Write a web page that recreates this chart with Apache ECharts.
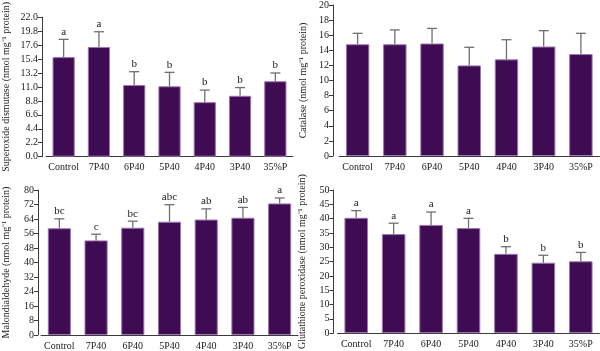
<!DOCTYPE html>
<html>
<head>
<meta charset="utf-8">
<script src="https://cdn.jsdelivr.net/npm/echarts@6/dist/echarts.min.js"></script>
<style>
  html, body { margin: 0; padding: 0; background: #fff; }
  #main { width: 600px; height: 351px; }
</style>
</head>
<body>
<div id="main"></div>
<script>
// categories shared by all four panels
var categories = ['Control', '7P40', '6P40', '5P40', '4P40', '3P40', '35%P'];

// superoxide dismutase
var sodMean = [15.7, 17.3, 11.3, 11.1, 8.6, 9.6, 11.9];
var sodErr = [2.8, 2.4, 2.1, 2.2, 1.9, 1.3, 1.3];
var sodLetters = ['a', 'a', 'b', 'b', 'b', 'b', 'b'];

// catalase
var catMean = [14.8, 14.8, 14.9, 12.0, 12.8, 14.5, 13.5];
var catErr = [1.45, 1.9, 2.0, 2.4, 2.6, 2.1, 2.75];
var catLetters = ['', '', '', '', '', '', ''];

// malondialdehyde
var mdaMean = [58.9, 52.2, 59.2, 62.5, 63.7, 64.7, 72.6];
var mdaErr = [5.2, 3.4, 3.6, 9.4, 5.9, 5.7, 3.0];
var mdaLetters = ['bc', 'c', 'bc', 'abc', 'ab', 'ab', 'a'];

// glutathione peroxidase
var gpxMean = [40.3, 34.6, 37.8, 36.7, 27.7, 24.6, 25.1];
var gpxErr = [2.5, 3.8, 4.5, 3.4, 2.5, 2.6, 3.1];
var gpxLetters = ['a', 'a', 'a', 'a', 'b', 'b', 'b'];

var FONT = 'Liberation Serif';
var axisColor = '#3a3a3a';

var myChart = echarts.init(document.getElementById('main'));

// panel layout
var panels = [
    {grid: {left: 42, top: 10, width: 251, height: 146.7}, off: 4, gap: 31,
     name: 'Superoxide dismutase (nmol mg\u207B\u00B9 protein)',
     min: 0, max: 22, interval: 2.2, digits: 1,
     mean: sodMean, err: sodErr, letters: sodLetters},
    {grid: {left: 339, top: 5, width: 260.5, height: 151}, off: 6, gap: 25,
     name: 'Catalase (nmol mg\u207B\u00B9 protein)',
     min: 0, max: 20, interval: 2, digits: 0,
     mean: catMean, err: catErr, letters: catLetters},
    {grid: {left: 38, top: 190, width: 260, height: 147.3}, off: 3, gap: 27,
     name: 'Malondialdehyde (nmol mg\u207B\u00B9 protein)',
     min: 0, max: 80, interval: 8, digits: 0,
     mean: mdaMean, err: mdaErr, letters: mdaLetters},
    {grid: {left: 337.5, top: 190, width: 262, height: 147.3}, off: 4, gap: 26,
     name: 'Glutathione peroxidase (nmol mg\u207B\u00B9 protein)',
     min: 0, max: 50, interval: 5, digits: 0,
     mean: gpxMean, err: gpxErr, letters: gpxLetters}
];

var grids = [], xAxes = [], yAxes = [], series = [];

panels.forEach(function (p, k) {
    grids.push(p.grid);
    xAxes.push({
        type: 'category',
        gridIndex: k,
        data: categories,
        axisLine: {lineStyle: {color: axisColor, width: 1}},
        axisTick: {alignWithLabel: true, length: 4, lineStyle: {color: axisColor}},
        axisLabel: {fontFamily: FONT, fontSize: 10, color: '#1a1a1a', margin: 6, interval: 0}
    });
    yAxes.push({
        type: 'value',
        gridIndex: k,
        min: p.min,
        max: p.max,
        interval: p.interval,
        offset: p.off,
        splitLine: {show: false},
        axisLine: {show: true, lineStyle: {color: axisColor, width: 1}},
        axisTick: {show: true, length: 4, lineStyle: {color: axisColor}},
        axisLabel: {
            fontFamily: FONT, fontSize: 10, color: '#1a1a1a', margin: 4,
            formatter: function (v) { return v.toFixed(p.digits); }
        },
        name: p.name,
        nameLocation: 'middle',
        nameGap: p.gap,
        nameTextStyle: {fontFamily: FONT, fontSize: 10, color: '#1a1a1a'}
    });
    series.push({
        type: 'bar',
        xAxisIndex: k,
        yAxisIndex: k,
        data: p.mean,
        barWidth: '63%',
        itemStyle: {color: '#3f0b52', borderColor: '#9c78b0', borderWidth: 1},
        z: 2
    });
    // error bars (upper only) and significance letters
    var errData = p.mean.map(function (m, i) { return [i, m, p.err[i]]; });
    series.push({
        type: 'custom',
        xAxisIndex: k,
        yAxisIndex: k,
        data: errData,
        z: 3,
        renderItem: function (params, api) {
            var i = api.value(0);
            var m = api.value(1);
            var e = api.value(2);
            var base = api.coord([i, m]);
            var top = api.coord([i, m + e]);
            var children = [
                {type: 'line', shape: {x1: base[0], y1: base[1], x2: top[0], y2: top[1]},
                 style: {stroke: '#707070', lineWidth: 1.3}},
                {type: 'line', shape: {x1: top[0] - 5, y1: top[1], x2: top[0] + 5, y2: top[1]},
                 style: {stroke: '#707070', lineWidth: 1.3}}
            ];
            var letter = p.letters[params.dataIndex];
            if (letter) {
                children.push({
                    type: 'text',
                    style: {
                        text: letter, x: top[0], y: top[1] - 2,
                        textAlign: 'center', textVerticalAlign: 'bottom',
                        font: '11px "' + FONT + '"', fill: '#1a1a1a'
                    }
                });
            }
            return {type: 'group', children: children};
        }
    });
});

var option = {
    animation: false,
    grid: grids,
    xAxis: xAxes,
    yAxis: yAxes,
    series: series
};

myChart.setOption(option);
</script>
</body>
</html>
